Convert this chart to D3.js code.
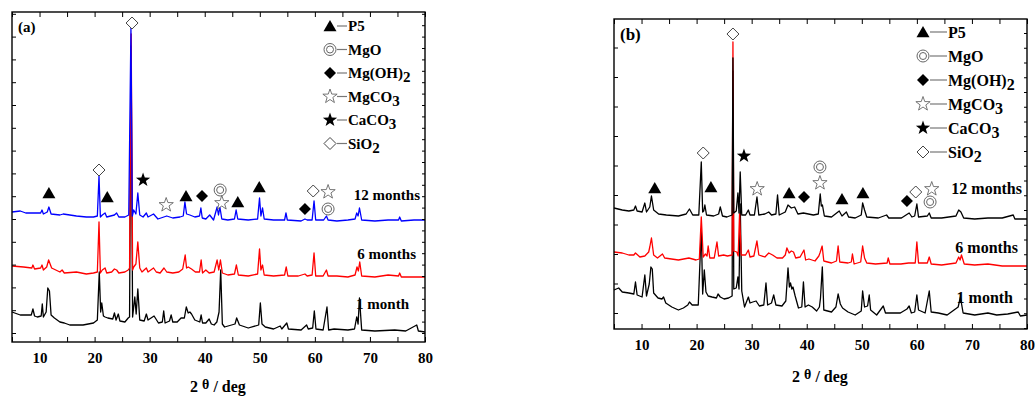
<!DOCTYPE html>
<html>
<head>
<meta charset="utf-8">
<script src="https://cdn.jsdelivr.net/npm/d3@7"></script>
<style>
  body { margin: 0; background: #fff; }
  svg { display: block; }
  text { font-family: "Liberation Serif", "Times New Roman", serif; font-weight: bold; fill: #000; }
</style>
</head>
<body>
<div id="chart"></div>
<script>
// 2theta axis
const xTicks = [10, 20, 30, 40, 50, 60, 70, 80];
const sampleLabels = ['1 month', '6 months', '12 months'];
const phases = ['P5', 'MgO', 'Mg(OH)2', 'MgCO3', 'CaCO3', 'SiO2'];
const phaseLabels = [['P5'], ['MgO'], ['Mg(OH)', '2'], ['MgCO', '3'], ['CaCO', '3'], ['SiO', '2']];

// panel (a): [2theta, intensity a.u., already offset]
const aMonth1 = [[5,30],[6.5,27],[8.5,27],[8.8,33],[9.1,26],[9.6,25],[10.3,26],[10.5,38],[10.7,25],[11.2,30],[11.5,54],[11.8,51],[12.1,27],[12.7,24],[13.7,20],[14.5,19],[15.5,17],[17.9,17],[19.8,19],[20.5,22],[20.85,70],[21.1,30],[21.3,39],[21.6,26],[21.9,25],[22.4,24],[23.3,23],[23.6,29],[23.9,22],[24.3,28],[24.6,21],[25.5,20],[26.1,24],[26.35,25],[26.62,296],[26.9,25],[27.3,45],[27.55,28],[27.85,53],[28.2,22],[29,21],[29.4,28],[29.7,22],[30.8,26],[31.6,19],[32.3,20],[32.55,31],[32.8,19],[33.6,21],[33.9,27],[34.2,20],[35,20],[35.7,24],[36.3,24],[36.65,35],[37,29],[37.3,30],[37.6,28],[38.2,22],[39.1,20],[39.35,27],[39.6,19],[40.2,19],[40.8,23],[41.2,18],[41.7,17],[42.2,20],[42.6,30],[42.9,72],[43.2,18],[43.6,15],[45.5,18],[45.8,24],[46.3,17],[47.9,14],[49.8,17],[50.1,39],[50.4,18],[51,15],[52.5,13],[53.7,16],[54,13],[54.9,19],[55.2,13],[57.5,12],[58.5,17],[58.8,13],[59.6,14],[59.9,31],[60.2,13],[61.5,12],[62.2,35],[62.5,12],[63.5,13],[66,12],[67.2,13],[67.6,25],[67.85,18],[68.1,44],[68.5,12],[70.9,11],[74.5,12],[76.5,11],[78.5,17],[78.8,11],[80,10]];
const aMonth6 = [[5,76],[7.1,75],[8.6,74],[8.8,77],[9.1,73],[10.2,74],[10.45,77],[10.7,72],[11.3,75],[11.65,82],[12.2,74],[13.7,70],[14.1,72],[14.5,69],[16.7,70],[18.5,68],[19.8,69],[20.5,70],[20.8,120],[21.05,69],[21.4,72],[21.9,74],[22.2,69],[23.1,70],[23.6,73],[24,72],[24.4,69],[25.5,70],[26.1,72],[26.35,74],[26.64,308],[26.9,72],[27.1,75],[27.5,78],[27.85,100],[28.2,74],[28.6,70],[29.4,74],[29.7,70],[30.7,74],[31.2,70],[31.9,69],[32.6,74],[33.1,70],[34.2,69],[35.3,70],[36,73],[36.45,87],[36.7,74],[37,75],[37.6,73],[38.3,70],[39.05,70],[39.35,82],[39.6,69],[40.2,72],[40.8,69],[41.7,70],[42.25,82],[42.55,72],[42.85,82],[43.2,69],[44.2,67],[45.4,68],[45.75,77],[46.1,67],[47.9,66],[49.6,68],[49.95,93],[50.2,72],[50.5,77],[50.8,67],[52.5,66],[54.5,67],[54.8,75],[55.1,66],[57,66],[58.2,68],[58.6,66],[59.5,67],[59.85,89],[60.15,66],[61.5,66],[62.1,72],[62.4,66],[64,66],[66,65],[67.3,67],[67.65,75],[67.9,71],[68.15,80],[68.5,66],[70.9,65],[73.3,67],[75.2,66],[75.4,69],[75.7,65],[78,65],[80,65]];
const aMonth12 = [[5,130],[6.5,131],[7.5,129],[8.6,129],[10.2,129],[10.45,132],[10.7,128],[11.4,130],[11.7,135],[12.1,128],[13.7,127],[14.3,128],[16.7,126],[18.5,125],[19.8,125],[20.5,126],[20.8,166],[21.05,125],[21.4,127],[21.9,129],[22.2,125],[23.6,127],[24,129],[24.4,125],[25.5,125],[26.2,127],[26.6,314],[26.85,126],[27.1,132],[27.5,128],[27.85,149],[28.2,127],[28.8,125],[29.4,129],[29.7,125],[30.7,128],[31.5,123],[33.1,126],[34.2,124],[35.5,125],[36.1,126],[36.4,140],[36.7,128],[37.3,127],[38.2,125],[39.05,126],[39.3,134],[39.55,124],[40.2,123],[40.9,127],[41.6,122],[42.25,135],[42.5,127],[42.75,135],[43.1,123],[44.2,122],[45.4,123],[45.7,132],[46,123],[47.9,122],[49.6,123],[49.95,144],[50.2,126],[50.5,134],[50.8,123],[52.5,122],[54.5,122],[54.75,129],[55,122],[57.5,121],[58.2,123],[58.6,122],[59.5,122],[59.85,141],[60.15,122],[61.6,122],[62.1,126],[62.4,122],[64,121],[66,122],[67.3,123],[67.6,129],[67.85,126],[68.1,134],[68.5,122],[70.9,121],[73.3,122],[75.2,122],[75.4,125],[75.7,121],[78,122],[80,122]];

// panel (b)
const bMonth1 = [[5,39],[5.85,41],[6.5,37],[7.7,36],[8.6,35],[8.9,47],[9.2,34],[10.1,32],[10.6,54],[10.9,33],[11.4,45],[11.7,62],[11.95,60],[12.2,36],[13,31],[13.7,30],[14,32],[14.4,26],[15.5,22],[16.7,19],[17.6,21],[18.4,24],[18.7,27],[19.2,24],[20.3,24],[20.85,100],[21.1,35],[21.4,59],[21.7,37],[22.1,33],[22.8,32],[23.6,31],[23.9,35],[24.3,32],[25,30],[25.8,31],[26.45,33],[26.6,258],[26.75,40],[27.2,41],[27.5,52],[27.7,40],[27.92,125],[28.2,38],[28.7,22],[29.4,32],[29.7,26],[30.2,27],[30.8,28],[31.4,23],[32.2,24],[32.6,46],[32.9,24],[33.6,26],[34,34],[34.4,24],[35.5,23],[36.2,28],[36.6,61],[36.85,42],[37.05,46],[37.3,40],[37.5,42],[37.9,33],[38.5,21],[39.1,22],[39.4,47],[39.7,22],[40.3,24],[41,22],[41.8,18],[42.3,22],[42.5,31],[42.83,62],[43.1,19],[44.5,17],[45.3,22],[45.7,35],[46.1,25],[46.5,21],[47.5,17],[48.8,14],[49.9,18],[50.15,38],[50.5,22],[51.05,23],[51.35,34],[51.6,19],[52.7,14],[53.9,23],[54.3,16],[55.4,16],[57,16],[58.2,20],[58.6,23],[59,16],[59.6,17],[60,34],[60.3,19],[61.5,16],[62.25,38],[62.6,17],[63.9,16],[65.5,14],[67.5,22],[67.9,32],[68.4,16],[70.5,14],[72.9,16],[74.5,14],[76.5,15],[78.4,17],[78.8,13],[80,14]];
const bMonth6 = [[5,77],[6.5,76],[7.7,74],[8.6,74],[8.9,76],[9.7,72],[10.6,73],[11.3,77],[11.5,82],[11.8,91],[12.2,74],[12.9,71],[13.8,75],[14.2,71],[16.7,69],[18.6,71],[19.9,69],[20.5,70],[20.85,112],[21.2,72],[21.6,75],[21.9,73],[22.1,83],[22.4,71],[23.2,71],[23.7,87],[24,73],[24.9,74],[25.6,73],[26.45,74],[26.6,287],[26.75,78],[27.3,77],[27.55,73],[27.8,115],[28.1,74],[28.9,74],[29.4,79],[29.7,72],[30.4,73],[30.96,88],[31.3,74],[32.4,72],[33.1,76],[33.8,74],[34.6,71],[35.6,71],[36.1,74],[36.4,81],[36.8,76],[37.2,78],[37.6,77],[38,71],[38.8,72],[39.5,79],[39.8,69],[40.4,70],[41.5,68],[42.2,73],[42.4,76],[42.8,83],[43.1,68],[44.5,66],[45.4,68],[45.7,83],[46,67],[47.5,66],[48.1,67],[48.3,75],[48.6,65],[49.8,67],[50.15,83],[50.5,71],[50.9,66],[52.5,65],[54.6,66],[54.8,71],[55.1,65],[57.1,65],[58.5,66],[59.7,66],[60,87],[60.3,66],[61.9,66],[62.25,72],[62.6,65],[64.5,64],[67.1,66],[67.6,72],[67.85,69],[68.1,74],[68.6,65],[70.5,64],[72.9,65],[75.5,63],[78.5,63],[80,63]];
const bMonth12 = [[5,121],[6.5,119],[7.7,118],[8.6,119],[8.9,123],[9.2,118],[10.1,117],[10.6,126],[10.9,117],[11.5,122],[11.8,133],[12.2,119],[13.1,115],[14.5,114],[16.7,113],[18.1,115],[18.7,120],[19.3,114],[20.4,114],[20.85,167],[21.1,117],[21.3,118],[21.5,124],[21.8,114],[23.1,113],[24,115],[24.3,122],[24.7,113],[25.5,112],[26.45,114],[26.6,271],[26.75,116],[27.2,118],[27.5,136],[27.7,116],[27.92,157],[28.2,114],[28.9,114],[29.4,119],[29.7,114],[30.5,114],[30.96,132],[31.3,114],[32.4,115],[33.1,117],[33.6,114],[34.4,115],[34.7,134],[35,114],[36.1,117],[36.6,124],[37.2,121],[37.8,122],[38.4,115],[39.4,116],[40.3,115],[41.2,114],[42.1,115],[42.45,135],[42.65,123],[42.85,124],[43.2,113],[44.5,112],[45.9,118],[46.4,113],[47.2,117],[47.6,112],[48.8,111],[49.9,114],[50.15,126],[50.5,119],[50.9,112],[53,111],[54.5,114],[54.9,111],[57.2,111],[58.6,116],[59.1,112],[59.6,113],[60,125],[60.3,112],[61.9,113],[62.25,116],[62.6,111],[64.5,111],[67.1,113],[67.6,119],[68,117],[68.5,111],[70.5,110],[72.9,111],[75.5,111],[77.5,114],[77.8,110],[80,110]];

// phase markers: [phase index, 2theta, intensity]
const aMarkers = [[0,11.7,149],[5,20.8,172],[0,22.3,145],[5,26.8,319],[4,28.8,162],[3,33,137],[0,36.6,146],[2,39.5,146],[1,42.8,152],[3,43.1,139],[0,46,140],[0,49.9,155],[5,59.7,151],[3,62.4,150],[2,58.2,133],[1,62.4,133]];
const bMarkers = [[0,12.4,141],[5,21.2,176],[0,22.6,142],[5,26.6,295],[4,28.6,173],[3,31,140],[0,36.8,136],[2,39.5,132],[1,42.4,162],[3,42.4,146],[0,46.4,130],[0,50.2,136],[2,58.2,128],[5,59.8,137],[3,62.7,140],[1,62.4,127]];

const svg = d3.select('#chart').append('svg')
  .attr('width', 1035)
  .attr('height', 396);

function starPath(R, r) {
  let p = [];
  for (let i = 0; i < 10; i++) {
    const a = -Math.PI / 2 + i * Math.PI / 5;
    const rad = i % 2 === 0 ? R : r;
    p.push([rad * Math.cos(a), rad * Math.sin(a)]);
  }
  return 'M' + p.map(d => d[0].toFixed(2) + ',' + d[1].toFixed(2)).join('L') + 'Z';
}

function drawSymbol(g, k, cx, cy) {
  const s = g.append('g').attr('transform', `translate(${cx},${cy})`);
  if (k === 0) {
    s.append('path').attr('d', 'M0,-6L6.5,5.2L-6.5,5.2Z').attr('fill', '#000');
  } else if (k === 1) {
    s.append('circle').attr('r', 6).attr('fill', '#fff').attr('stroke', '#666').attr('stroke-width', 1);
    s.append('circle').attr('r', 3.5).attr('fill', 'none').attr('stroke', '#666').attr('stroke-width', 1);
  } else if (k === 2) {
    s.append('path').attr('d', 'M0,-6L6,0L0,6L-6,0Z').attr('fill', '#000');
  } else if (k === 3) {
    s.append('path').attr('d', starPath(7.5, 3)).attr('fill', '#fff').attr('stroke', '#666').attr('stroke-width', 0.9);
  } else if (k === 4) {
    s.append('path').attr('d', starPath(7.5, 3)).attr('fill', '#000');
  } else {
    s.append('path').attr('d', 'M0,-6L6,0L0,6L-6,0Z').attr('fill', '#fff').attr('stroke', '#444').attr('stroke-width', 1);
  }
}

function drawPanel(cfg) {
  const x = d3.scaleLinear().domain([5, 80]).range([cfg.left, cfg.right]);
  const y = d3.scaleLinear().domain([0, cfg.yMax]).range([cfg.bottom, cfg.top]);
  const g = svg.append('g');

  const line = d3.line().x(d => x(d[0])).y(d => y(d[1]));
  cfg.series.forEach((s, i) => {
    g.append('path')
      .datum(s)
      .attr('fill', 'none')
      .attr('stroke', cfg.colors[i])
      .attr('stroke-width', 1.3)
      .attr('stroke-linejoin', 'round')
      .attr('d', line);
  });

  // axes, ticks inside
  const minor = d3.range(5, 81, 5);
  const bottomAxis = g.append('g')
    .attr('transform', `translate(0,${cfg.bottom})`)
    .call(d3.axisBottom(x).tickValues(minor).tickSize(-5).tickSizeOuter(0).tickPadding(10)
      .tickFormat(d => xTicks.includes(d) ? d : ''));
  bottomAxis.selectAll('text').style('font-size', '15px').attr('font-family', null);
  g.append('g')
    .attr('transform', `translate(0,${cfg.top})`)
    .call(d3.axisTop(x).tickValues(minor).tickSize(-5).tickSizeOuter(0).tickFormat(''));
  g.append('g')
    .attr('transform', `translate(${cfg.left},0)`)
    .call(d3.axisLeft(y).tickValues(cfg.yTicks).tickSize(-4).tickSizeOuter(0).tickFormat(''));
  g.append('g')
    .attr('transform', `translate(${cfg.right},0)`)
    .call(d3.axisRight(y).tickValues(cfg.yTicksRight).tickSize(-3).tickSizeOuter(0).tickFormat(''));
  g.selectAll('.domain').remove();
  g.selectAll('.tick line').attr('stroke', '#000').attr('stroke-width', 1);

  g.append('rect')
    .attr('x', cfg.left).attr('y', cfg.top)
    .attr('width', cfg.right - cfg.left).attr('height', cfg.bottom - cfg.top)
    .attr('fill', 'none').attr('stroke', '#000').attr('stroke-width', 1.4);

  // phase markers
  cfg.markers.forEach(m => drawSymbol(g, m[0], x(m[1]), y(m[2])));

  // sample labels
  sampleLabels.forEach((t, i) => {
    g.append('text')
      .attr('x', cfg.labelPos[i][0])
      .attr('y', y(cfg.labelPos[i][1]))
      .attr('dy', '0.35em')
      .attr('text-anchor', 'end')
      .style('font-size', cfg.labelSize + 'px')
      .text(t);
  });

  // legend
  phaseLabels.forEach((parts, i) => {
    const cy = cfg.legY + i * cfg.legStep;
    drawSymbol(g, i, cfg.legX, cy);
    g.append('line')
      .attr('x1', cfg.legX + 7).attr('x2', cfg.legX + cfg.legLine)
      .attr('y1', cy).attr('y2', cy)
      .attr('stroke', '#777').attr('stroke-width', 1.2);
    const t = g.append('text')
      .attr('x', cfg.legX + cfg.legLine + 1)
      .attr('y', cy)
      .attr('dy', '0.35em')
      .style('font-size', cfg.legSize + 'px');
    t.append('tspan').text(parts[0]);
    if (parts[1]) t.append('tspan').attr('dy', 4).text(parts[1]);
  });

  g.append('text')
    .attr('x', cfg.left + 6).attr('y', cfg.top + 15)
    .attr('dy', '0.35em')
    .style('font-size', cfg.tagSize + 'px')
    .text(cfg.tag);

  const title = g.append('text')
    .attr('x', cfg.titleX).attr('y', cfg.titleY)
    .attr('text-anchor', 'middle')
    .style('font-size', '16px');
  title.append('tspan').text('2 ');
  title.append('tspan').attr('dy', -3).style('font-size', '14px').text('\u03b8');
  title.append('tspan').attr('dy', 3).text('  / deg');
}

drawPanel({
  left: 12, top: 12, right: 425, bottom: 342, yMax: 330,
  series: [aMonth1, aMonth6, aMonth12],
  colors: ['#000', '#ff0000', '#0000ff'],
  yTicks: d3.range(9, 330, 22.8),
  yTicksRight: d3.range(9, 330, 11.4),
  markers: aMarkers,
  labelPos: [[409, 38], [416, 88], [420, 147]],
  labelSize: 15,
  legX: 330, legY: 26, legStep: 23.5, legLine: 17, legSize: 15,
  tag: '(a)', tagSize: 15,
  titleX: 218, titleY: 392
});

drawPanel({
  left: 614, top: 19, right: 1027, bottom: 329, yMax: 310,
  series: [bMonth1, bMonth6, bMonth12],
  colors: ['#000', '#ff0000', '#000'],
  yTicks: d3.range(16, 310, 29.5),
  yTicksRight: d3.range(1, 310, 14.75),
  markers: bMarkers,
  labelPos: [[1013, 32], [1018, 82], [1022, 141]],
  labelSize: 16,
  legX: 923, legY: 32, legStep: 24, legLine: 24, legSize: 16,
  tag: '(b)', tagSize: 17,
  titleX: 820, titleY: 382
});
</script>
</body>
</html>
